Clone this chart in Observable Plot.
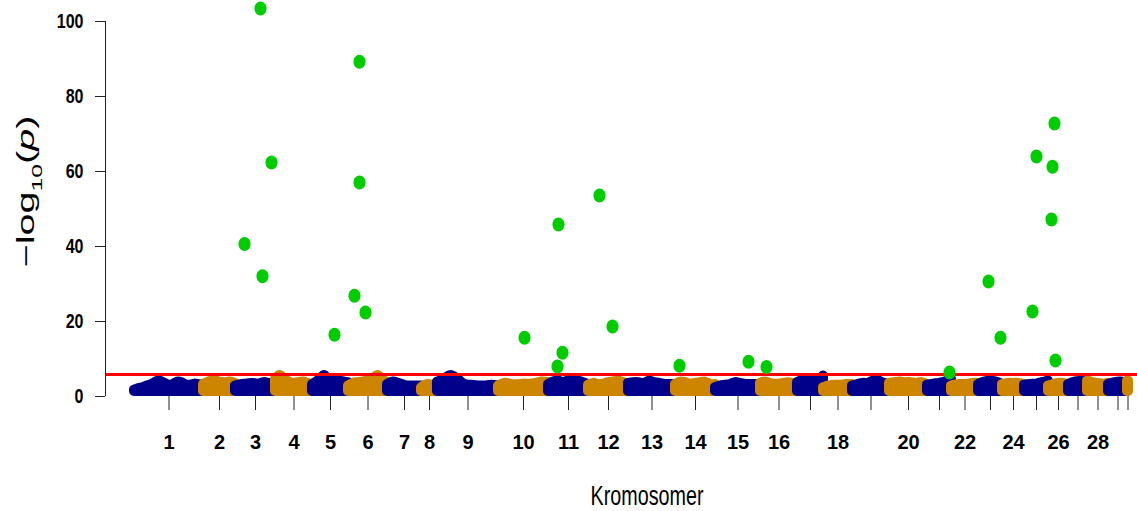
<!DOCTYPE html>
<html>
<head>
<meta charset="utf-8">
<script src="https://cdn.jsdelivr.net/npm/d3@7"></script>
<script src="https://cdn.jsdelivr.net/npm/@observablehq/plot@0.6"></script>
<style>
  html, body { margin: 0; padding: 0; background: #fff; }
  #chart svg { display: block; }
</style>
</head>
<body>
<div id="chart"></div>
<script>
// Chromosomes along the genome axis; sizes are in marker-index units.
const chromosomes = d3.range(1, 31);
const chrSize = [69, 32, 40, 37, 36, 39, 34, 16, 61, 50, 40, 40, 47, 40, 45, 37,
                 26, 29, 37, 38, 24, 27, 24, 22, 24, 20, 19, 21, 19, 1];
const chrLabels = ["1", "2", "3", "4", "5", "6", "7", "8", "9", "10", "11", "12", "13", "14", "15", "16",
                   "", "18", "", "20", "", "22", "", "24", "", "26", "", "28", "", ""];

// Upper envelope of the non-significant markers, −log10(p), sampled evenly along each chromosome.
const bandTop = [
  [1.7, 2.1, 2.35, 2.8, 3.2, 3.85, 4.1, 3.5, 3.0, 3.2, 3.85, 3.7, 3.05, 3.0, 3.3, 3.15, 3.0],
  [3.2, 3.85, 4.3, 3.85, 3.7, 3.85, 3.5],
  [2.8, 3.15, 3.3, 3.5, 3.3, 3.7, 3.5, 3.3],
  [4.6, 5.6, 4.6, 3.85, 3.5, 3.7, 3.85, 3.5, 3.2],
  [3.2, 3.85, 4.6, 5.6, 4.3, 3.85, 4.6, 4.1, 3.85, 3.7],
  [2.8, 3.5, 3.7, 3.85, 4.1, 4.6, 5.6, 4.6, 3.5],
  [3.2, 3.85, 3.5, 3.0, 2.8, 2.8, 2.8],
  [2.35, 3.0, 3.2, 2.8, 2.6],
  [3.85, 4.6, 5.6, 4.6, 3.2, 3.0, 2.8, 2.8, 3.0, 2.8],
  [2.8, 3.5, 3.2, 3.15, 3.3, 3.3, 3.5, 3.85, 3.7],
  [3.2, 3.85, 4.1, 3.7, 4.2, 4.4, 4.1, 3.7, 3.2],
  [3.0, 3.5, 3.15, 3.3, 3.7, 3.85, 4.05, 3.7, 3.2],
  [3.5, 3.7, 3.7, 3.5, 4.05, 3.7, 3.5, 3.2, 3.2, 3.2],
  [3.2, 3.85, 3.7, 3.3, 3.5, 3.7, 3.85, 3.2, 3.2],
  [2.35, 2.8, 3.0, 3.2, 3.7, 3.5, 3.2, 3.2, 3.2, 3.0],
  [3.5, 3.85, 3.5, 3.3, 3.3, 3.5, 3.7, 3.5, 3.2],
  [3.7, 4.3, 4.1, 4.4, 4.1, 5.45],
  [2.35, 2.8, 3.0, 3.0, 3.2, 3.2],
  [2.8, 3.2, 3.5, 3.5, 4.1, 4.1, 3.5, 3.2],
  [3.5, 3.7, 3.85, 3.7, 3.7, 3.5, 3.7, 3.2],
  [3.0, 3.3, 3.5, 3.85, 4.6],
  [2.8, 3.15, 3.2, 3.2, 3.5, 3.5],
  [3.2, 3.85, 4.05, 3.85, 3.2],
  [3.2, 3.5, 3.5, 3.5, 3.2],
  [3.0, 3.2, 3.3, 3.7, 4.1],
  [2.8, 3.2, 3.5, 3.5, 3.2],
  [3.2, 3.85, 4.1, 4.1],
  [4.1, 3.7, 3.5, 3.3, 3.5],
  [3.2, 3.7, 3.85, 3.5],
  [4.1, 4.1]
];
const minLogP = 1.33;

// Genome-wide significant markers: chromosome, offset within chromosome, −log10(p).
const sigChr  = [3, 6, 3, 6, 3, 3, 6, 6, 5, 10, 11, 11, 11, 12, 12, 14, 15, 16, 21, 23, 23, 25, 26, 26, 26, 25, 26];
const sigPos  = [25, 11, 36, 11, 9, 27, 6, 17, 22, 26, 10, 14, 9, 11, 24, 4, 33, 6, 22, 10, 22, 12, 6, 4, 3, 8, 7];
const sigLogP = [103.5, 89.3, 62.4, 57.1, 40.7, 32.1, 26.9, 22.4, 16.5, 15.7, 45.9, 11.7, 8.0, 53.6, 18.7,
                 8.2, 9.3, 7.9, 6.4, 30.7, 15.7, 64.0, 72.8, 61.3, 47.2, 22.7, 9.6];

const threshold = 5.9;
const yTicks = [0, 20, 40, 60, 80, 100];
const chrColors = ["#00008B", "#CD8500"];
const hitColor = "#00CD00";

// Cumulative layout of the chromosomes
const chrStart = [];
let acc = 0;
for (const s of chrSize) { chrStart.push(acc); acc += s; }
const genomeLength = acc;
const tickPositions = chromosomes.map((c, i) => chrStart[i] + chrSize[i] / 2);
const tickRows = tickPositions.map((t, i) => ({x: t, label: chrLabels[i]}));

const bandRows = [];
chromosomes.forEach((c, i) => {
  const prof = bandTop[i];
  const n = prof.length;
  prof.forEach((v, j) => {
    bandRows.push({
      chr: c,
      x: chrStart[i] + (n > 1 ? chrSize[i] * j / (n - 1) : chrSize[i] / 2),
      top: v,
      color: chrColors[i % 2]
    });
  });
});

const hits = sigChr.map((c, i) => ({x: chrStart[c - 1] + sigPos[i], logp: sigLogP[i]}));

// Slightly tall elliptical point symbol
const ellipse = {
  draw(context, size) {
    const r = Math.sqrt(size / Math.PI);
    const rx = r * 0.86, ry = r, k = 0.5523;
    context.moveTo(rx, 0);
    context.bezierCurveTo(rx, k * ry, k * rx, ry, 0, ry);
    context.bezierCurveTo(-k * rx, ry, -rx, k * ry, -rx, 0);
    context.bezierCurveTo(-rx, -k * ry, -k * rx, -ry, 0, -ry);
    context.bezierCurveTo(k * rx, -ry, rx, -k * ry, rx, 0);
    context.closePath();
  }
};

const leadGap = 29, trailGap = 9;
const fontStack = "'Liberation Sans', Arimo, Arial, Helvetica, sans-serif";

const chart = Plot.plot({
  width: 1137,
  height: 511,
  marginLeft: 105,
  marginRight: 0,
  marginTop: 0,
  marginBottom: 115,
  x: {domain: [-leadGap, genomeLength + trailGap]},
  y: {domain: [0, 105.6]},
  color: {type: "identity"},
  marks: [
    Plot.areaY(bandRows, {
      x: "x", y1: minLogP, y2: "top", z: "chr",
      fill: "color", stroke: "color", strokeWidth: 10,
      strokeLinejoin: "round", curve: "catmull-rom"
    }),
    Plot.ruleY([threshold], {stroke: "#FF0000", strokeWidth: 3}),
    Plot.dot(hits, {x: "x", y: "logp", r: 7, symbol: ellipse, fill: hitColor}),
    Plot.ruleX([-leadGap], {y1: 0, y2: 100, stroke: "#222"}),
    Plot.axisY({ticks: yTicks, tickSize: 10, tickPadding: 12, label: null, stroke: "#222",
                fontSize: 20, fontWeight: "bold", fontFamily: fontStack, fill: "#000"}),
    Plot.axisX({ticks: tickPositions, tickSize: 14, tickFormat: () => "", label: null, stroke: "#222"}),
    Plot.text(tickRows, {
      x: "x", y: 0, text: "label", dy: 38, lineAnchor: "top",
      fontSize: 20, fontWeight: "bold", fontFamily: fontStack, fill: "#000",
      ariaLabel: "chromosome label"
    })
  ]
});

document.getElementById("chart").appendChild(chart);

const svg = d3.select(chart);

// Condense the bold tick labels horizontally without moving their anchors
svg.selectAll('g[aria-label="y-axis tick label"] text, g[aria-label="chromosome label"] text')
  .each(function() {
    const len = this.getComputedTextLength();
    if (len > 0) {
      this.setAttribute("textLength", (len * 0.8).toFixed(2));
      this.setAttribute("lengthAdjust", "spacingAndGlyphs");
    }
  });

// Y-axis title: −log10(p)
const yl = svg.append("text")
  .attr("text-anchor", "middle")
  .attr("fill", "#000")
  .style("font-family", fontStack)
  .style("font-size", "24px");
yl.append("tspan").text("−log");
yl.append("tspan").style("font-size", "15px").attr("dy", 8).text("10");
yl.append("tspan").attr("dy", -8).text("(");
yl.append("tspan").style("font-style", "italic").text("p");
yl.append("tspan").text(")");
const ylLen = yl.node().getComputedTextLength();
yl.attr("transform", `translate(34,191.5) rotate(-90) scale(${152 / ylLen},1)`);

// X-axis title
const xl = svg.append("text")
  .attr("text-anchor", "middle")
  .attr("fill", "#000")
  .style("font-family", fontStack)
  .style("font-size", "27px")
  .text("Kromosomer");
const xlLen = xl.node().getComputedTextLength();
xl.attr("transform", `translate(647,505) scale(${113 / xlLen},1)`);
</script>
</body>
</html>
